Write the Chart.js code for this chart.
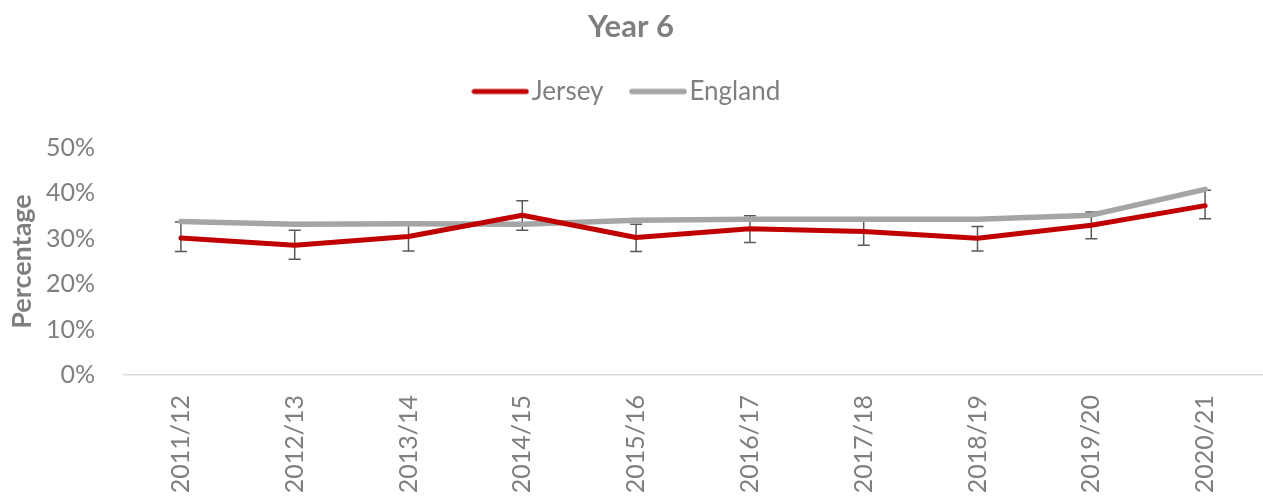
<!DOCTYPE html>
<html>
<head>
<meta charset="utf-8">
<script src="https://cdn.jsdelivr.net/npm/chart.js@4/dist/chart.umd.min.js"></script>
<style>
  html, body { margin: 0; padding: 0; background: #ffffff; }
  #wrap { width: 1263px; height: 500px; position: relative; }
</style>
</head>
<body>
<div id="wrap"><canvas id="c" width="1263" height="500"></canvas></div>
<script>
const categories = ['2011/12','2012/13','2013/14','2014/15','2015/16','2016/17','2017/18','2018/19','2019/20','2020/21'];
const jersey = [30.2, 28.6, 30.5, 35.2, 30.3, 32.2, 31.6, 30.1, 33.0, 37.3];
const jerseyLower = [27.2, 25.5, 27.3, 31.9, 27.2, 29.2, 28.6, 27.3, 30.0, 34.4];
const jerseyUpper = [33.7, 31.9, 33.7, 38.4, 33.2, 35.1, 34.6, 32.7, 35.9, 40.7];
const england = [33.8, 33.2, 33.3, 33.2, 34.1, 34.3, 34.3, 34.3, 35.2, 40.9];
const yTicks = [0, 10, 20, 30, 40, 50];

const FONT = 'Lato';
const TEXT = '#7f7f7f';
const RED = '#c00000';
const GREY = '#a5a5a5';

function lineImg(color, w) {
  const c = document.createElement('canvas');
  c.width = 58; c.height = 8;
  const x = c.getContext('2d');
  x.strokeStyle = color; x.lineWidth = w; x.lineCap = 'round';
  x.beginPath(); x.moveTo(3, 4); x.lineTo(55, 4); x.stroke();
  return c;
}
const legendImgs = [lineImg(RED, 5), lineImg(GREY, 5.5)];

const legendSpacer = {
  id: 'legendSpacer',
  beforeLayout(chart) {
    if (chart.legend && !chart.legend._patched) {
      const fit = chart.legend.fit;
      chart.legend.fit = function () { fit.call(this); this.height += 33.5; };
      chart.legend._patched = true;
    }
  }
};

const errorBars = {
  id: 'errorBars',
  beforeDatasetsDraw(chart) {
    const ctx = chart.ctx;
    const xs = chart.scales.x, ys = chart.scales.y;
    ctx.save();
    ctx.strokeStyle = '#595959';
    ctx.lineWidth = 1.5;
    for (let i = 0; i < categories.length; i++) {
      const x = xs.getPixelForValue(i);
      const yl = ys.getPixelForValue(jerseyLower[i]);
      const yu = ys.getPixelForValue(jerseyUpper[i]);
      ctx.beginPath();
      ctx.moveTo(x, yl); ctx.lineTo(x, yu);
      ctx.moveTo(x - 6, yl); ctx.lineTo(x + 6, yl);
      ctx.moveTo(x - 6, yu); ctx.lineTo(x + 6, yu);
      ctx.stroke();
    }
    ctx.restore();
  }
};

new Chart(document.getElementById('c'), {
  type: 'line',
  data: {
    labels: categories,
    datasets: [
      { label: 'Jersey', data: jersey, borderColor: RED, backgroundColor: RED, borderWidth: 5,
        pointRadius: 0, tension: 0, borderCapStyle: 'round', borderJoinStyle: 'round' },
      { label: 'England', data: england, borderColor: GREY, backgroundColor: GREY, borderWidth: 5.5,
        pointRadius: 0, tension: 0, borderCapStyle: 'round', borderJoinStyle: 'round' }
    ]
  },
  options: {
    responsive: false,
    animation: false,
    devicePixelRatio: 1,
    layout: { padding: { left: 0, right: 1, top: 0, bottom: 0 } },
    plugins: {
      title: {
        display: true, text: 'Year 6', color: TEXT,
        font: { family: FONT, size: 31, weight: 'bold', lineHeight: 1.0 },
        padding: { top: 11.5, bottom: 0 }
      },
      legend: {
        display: true, position: 'top',
        labels: {
          color: TEXT, font: { family: FONT, size: 26 },
          usePointStyle: true, pointStyleWidth: 37, padding: 36,
          generateLabels(chart) {
            const items = Chart.defaults.plugins.legend.labels.generateLabels(chart);
            items.forEach((it, i) => { it.pointStyle = legendImgs[i]; });
            return items;
          }
        }
      },
      tooltip: { enabled: false }
    },
    scales: {
      x: {
        type: 'category', offset: true,
        grid: { display: false, drawTicks: false },
        border: { display: true, color: '#d9d9d9', width: 1.5 },
        ticks: { color: TEXT, font: { family: FONT, size: 25 }, minRotation: 90, maxRotation: 90, padding: 20, autoSkip: false },
        afterFit(scale) { scale.height = 125; }
      },
      y: {
        min: 0, max: 50,
        afterBuildTicks(scale) { scale.ticks = yTicks.map(v => ({ value: v })); },
        grid: { display: false, drawTicks: false },
        border: { display: false },
        ticks: { color: TEXT, font: { family: FONT, size: 25 }, padding: 29, callback: v => v + '%' },
        title: { display: true, text: 'Percentage', color: TEXT, font: { family: FONT, size: 27, weight: 'bold' }, padding: { top: 6, bottom: 0 } },
        afterFit(scale) { scale.width = 124; }
      }
    }
  },
  plugins: [legendSpacer, errorBars]
});
</script>
</body>
</html>
